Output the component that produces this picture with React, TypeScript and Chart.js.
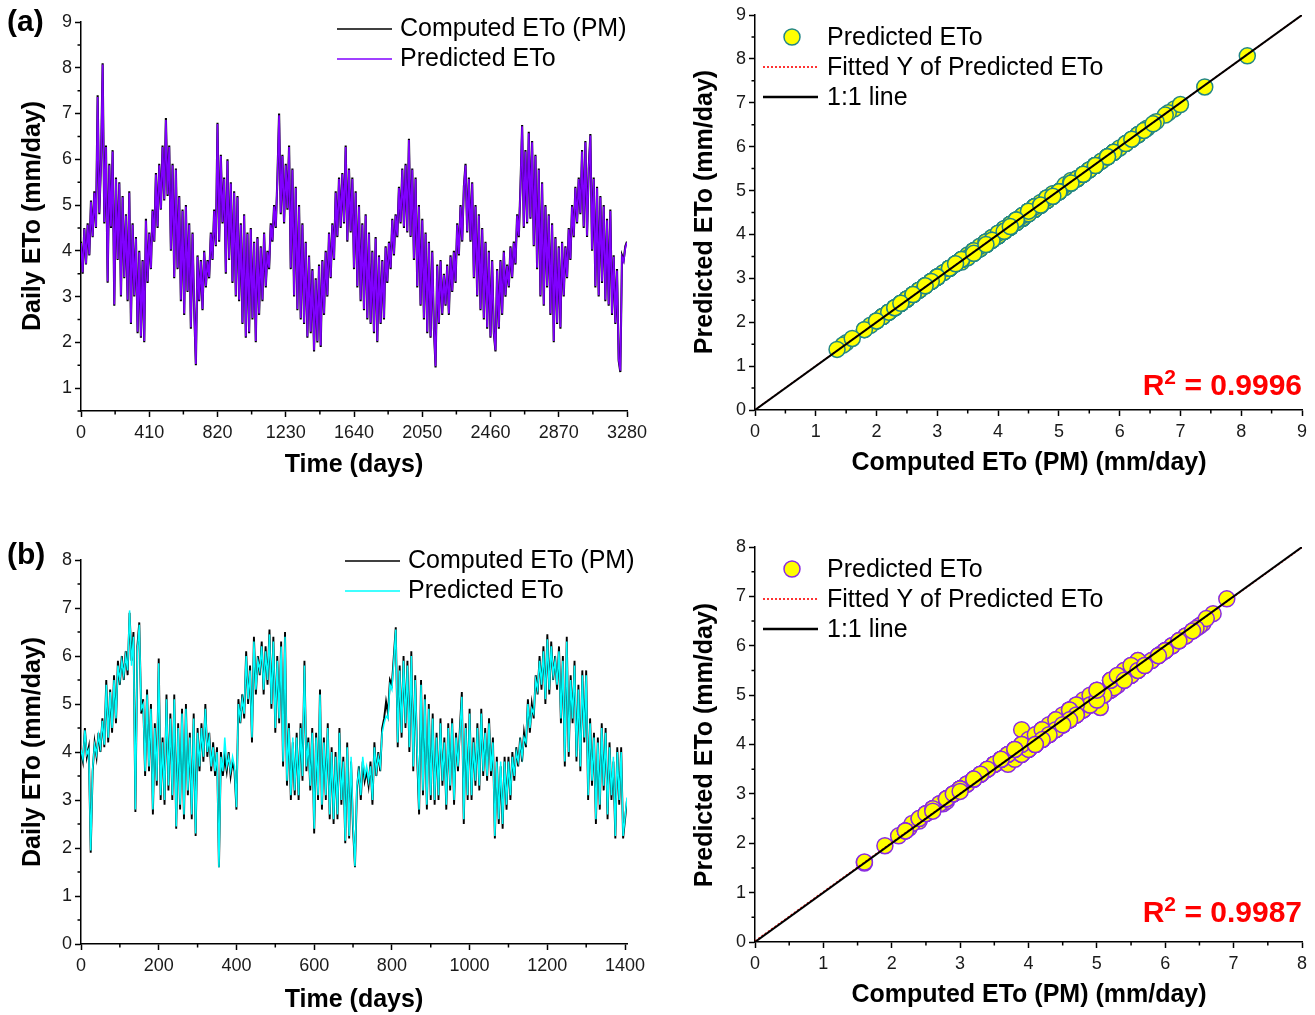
import React, { useEffect, useRef } from "react";
import { Chart, registerables } from "chart.js";

Chart.register(...registerables);

const FONT = '"Liberation Sans", Arial, Helvetica, sans-serif';

// ---------------- Panel (a) : daily ETo, one reading every 10 days ----------------
const aStepDays = 10;
const aComputed = [
  4.2, 3.5, 4.5, 3.7, 4.6, 3.9, 5.1, 4.3, 5.3, 4.5,
  7.4, 4.8, 5.9, 8.1, 4.6, 6.3, 3.3, 5.9, 4.5, 6.2,
  2.8, 5.6, 3.8, 5.5, 3.0, 5.2, 3.4, 4.8, 2.9, 5.3,
  2.4, 4.6, 3.0, 4.3, 2.2, 4.0, 2.1, 3.8, 2.0, 4.7,
  3.3, 4.4, 3.6, 4.9, 4.2, 5.7, 4.5, 5.9, 4.9, 6.3,
  5.1, 6.9, 5.2, 6.3, 4.0, 5.9, 3.4, 5.8, 3.6, 5.2,
  2.9, 4.9, 2.6, 5.0, 3.1, 4.6, 2.3, 4.4, 2.7, 1.5,
  3.9, 2.9, 3.8, 2.7, 4.0, 3.2, 3.8, 3.4, 4.4, 3.8,
  4.9, 4.1, 6.8, 4.2, 6.1, 4.6, 5.6, 3.5, 6.0, 3.8,
  5.5, 3.3, 5.3, 3.0, 5.2, 2.9, 4.6, 2.4, 4.8, 2.1,
  4.4, 2.2, 4.5, 2.5, 4.2, 2.0, 4.3, 2.6, 4.1, 2.9,
  4.4, 3.2, 4.0, 3.6, 4.6, 4.2, 5.0, 4.5, 5.6, 7.0,
  4.8, 6.1, 4.6, 5.9, 4.9, 6.3, 3.6, 5.8, 3.0, 5.4,
  2.7, 5.0, 2.5, 4.6, 2.4, 4.2, 2.1, 3.9, 2.2, 3.6,
  1.8, 3.4, 2.0, 3.7, 1.9, 3.8, 2.6, 4.0, 3.0, 4.4,
  3.4, 4.6, 3.8, 5.3, 4.3, 5.6, 4.5, 5.7, 4.6, 6.3,
  4.2, 5.8, 4.4, 5.6, 3.6, 5.3, 3.2, 5.0, 2.9, 4.6,
  2.7, 4.8, 2.5, 4.4, 2.4, 4.0, 2.2, 4.3, 2.0, 3.9,
  2.4, 3.8, 2.5, 4.1, 3.3, 4.2, 3.6, 4.7, 3.9, 4.8,
  4.3, 5.4, 4.6, 5.8, 4.5, 5.9, 4.4, 6.45, 4.3, 5.8,
  3.8, 5.6, 3.2, 5.0, 2.8, 4.7, 2.5, 4.4, 2.2, 4.2,
  2.1, 4.0, 2.3, 1.45, 3.7, 2.4, 3.8, 2.6, 3.5, 2.8,
  3.7, 2.6, 3.9, 3.1, 4.0, 3.3, 4.6, 3.9, 5.0, 4.2,
  5.4, 5.9, 4.4, 5.6, 4.2, 5.5, 3.4, 5.0, 3.0, 4.8,
  2.7, 4.5, 2.5, 4.2, 2.3, 4.0, 2.1, 3.8, 2.2, 1.8,
  3.6, 2.3, 3.8, 2.6, 4.0, 3.0, 3.7, 3.2, 4.1, 3.4,
  4.2, 3.7, 4.8, 4.3, 5.4, 6.75, 4.5, 6.2, 4.6, 6.6,
  4.7, 6.4, 4.1, 6.1, 3.6, 5.8, 3.0, 5.5, 2.8, 5.0,
  3.2, 4.8, 2.6, 4.6, 2.0, 4.3, 2.4, 4.1, 2.3, 4.2,
  3.0, 4.1, 3.4, 4.5, 3.8, 5.0, 4.3, 5.4, 4.6, 5.6,
  4.8, 6.2, 4.5, 6.4, 4.3, 5.8, 6.55, 4.0, 5.6, 3.2,
  5.4, 3.0, 5.2, 3.3, 5.0, 2.9, 4.7, 2.8, 4.9, 2.6,
  3.9, 2.4, 3.6, 1.6, 1.35, 3.9, 3.8, 4.1, 4.2,
];
const aPredicted = [
  4.17, 3.53, 4.48, 3.72, 4.57, 3.92, 5.07, 4.32, 5.27, 4.52,
  7.36, 4.83, 5.87, 8.07, 4.63, 6.27, 3.33, 5.87, 4.53, 6.17,
  2.83, 5.57, 3.82, 5.47, 3.03, 5.17, 3.43, 4.77, 2.93, 5.27,
  2.43, 4.57, 3.03, 4.27, 2.23, 3.97, 2.13, 3.77, 2.03, 4.66,
  3.33, 4.37, 3.62, 4.87, 4.22, 5.67, 4.53, 5.87, 4.92, 6.27,
  5.13, 6.86, 5.23, 6.27, 4.03, 5.87, 3.43, 5.77, 3.63, 5.17,
  2.93, 4.87, 2.63, 4.97, 3.13, 4.57, 2.33, 4.37, 2.73, 1.53,
  3.87, 2.93, 3.77, 2.73, 3.97, 3.23, 3.77, 3.43, 4.37, 3.82,
  4.87, 4.13, 6.77, 4.23, 6.07, 4.63, 5.57, 3.53, 5.97, 3.83,
  5.47, 3.33, 5.27, 3.03, 5.17, 2.93, 4.57, 2.43, 4.77, 2.13,
  4.37, 2.23, 4.47, 2.53, 4.17, 2.03, 4.27, 2.63, 4.07, 2.93,
  4.37, 3.23, 3.97, 3.63, 4.57, 4.23, 4.97, 4.53, 5.57, 6.96,
  4.83, 6.07, 4.63, 5.87, 4.93, 6.27, 3.63, 5.77, 3.03, 5.37,
  2.73, 4.97, 2.53, 4.57, 2.43, 4.17, 2.13, 3.87, 2.23, 3.57,
  1.83, 3.37, 2.03, 3.67, 1.93, 3.77, 2.63, 3.97, 3.03, 4.37,
  3.43, 4.57, 3.83, 5.27, 4.33, 5.57, 4.53, 5.67, 4.63, 6.27,
  4.23, 5.77, 4.43, 5.57, 3.63, 5.27, 3.23, 4.97, 2.93, 4.57,
  2.73, 4.77, 2.53, 4.37, 2.43, 3.97, 2.23, 4.27, 2.03, 3.87,
  2.43, 3.77, 2.53, 4.07, 3.33, 4.17, 3.63, 4.67, 3.93, 4.77,
  4.33, 5.37, 4.63, 5.77, 4.53, 5.87, 4.43, 6.42, 4.33, 5.77,
  3.83, 5.57, 3.23, 4.97, 2.83, 4.67, 2.53, 4.37, 2.23, 4.17,
  2.13, 3.97, 2.33, 1.48, 3.67, 2.43, 3.77, 2.63, 3.47, 2.83,
  3.67, 2.63, 3.87, 3.13, 3.97, 3.33, 4.57, 3.93, 4.97, 4.23,
  5.37, 5.87, 4.43, 5.57, 4.23, 5.47, 3.43, 4.97, 3.03, 4.77,
  2.73, 4.47, 2.53, 4.17, 2.33, 3.97, 2.13, 3.77, 2.23, 1.83,
  3.57, 2.33, 3.77, 2.63, 3.97, 3.03, 3.67, 3.23, 4.07, 3.43,
  4.17, 3.73, 4.77, 4.33, 5.37, 6.72, 4.53, 6.17, 4.63, 6.57,
  4.73, 6.37, 4.13, 6.07, 3.63, 5.77, 3.03, 5.47, 2.83, 4.97,
  3.23, 4.77, 2.63, 4.57, 2.03, 4.27, 2.43, 4.07, 2.33, 4.17,
  3.03, 4.07, 3.43, 4.47, 3.83, 4.97, 4.33, 5.37, 4.63, 5.57,
  4.83, 6.17, 4.53, 6.37, 4.33, 5.77, 6.52, 4.03, 5.57, 3.23,
  5.37, 3.03, 5.17, 3.33, 4.97, 2.93, 4.67, 2.83, 4.87, 2.63,
  3.87, 2.43, 3.57, 1.63, 1.38, 3.87, 3.77, 4.07, 4.18,
];

// ---------------- Panel (b) : daily ETo, one reading every 5 days ----------------
const bStepDays = 5;
const bComputed = [
  4.0, 3.8, 4.5, 3.9, 4.1, 1.9, 3.6, 4.2, 3.9, 4.4, 4.0, 4.7, 4.1, 5.5, 4.2, 5.3, 4.4, 5.6, 4.6, 5.9,
  5.4, 6.0, 5.5, 6.1, 5.6, 6.9, 5.9, 6.5, 2.75, 6.2, 6.7, 4.8, 5.1, 3.5, 5.3, 3.6, 5.0, 2.7, 4.6, 3.3,
  5.95, 3.0, 4.3, 2.9, 5.2, 3.2, 4.8, 3.0, 5.2, 2.4, 4.6, 2.8, 4.9, 2.6, 5.0, 3.1, 4.4, 2.6, 4.8, 2.25,
  4.5, 3.6, 4.6, 3.8, 5.0, 3.9, 4.4, 3.6, 4.2, 3.5, 4.1, 1.6, 4.0, 3.5, 3.9, 3.6, 4.0, 3.5, 3.8, 3.6,
  2.8, 5.1, 4.6, 5.2, 4.7, 6.1, 5.0, 5.8, 4.2, 6.4, 5.2, 6.0, 5.6, 6.3, 5.2, 6.2, 5.4, 6.55, 4.9, 6.4,
  4.4, 6.0, 4.6, 6.3, 3.7, 6.5, 3.3, 4.6, 3.0, 4.2, 3.1, 4.4, 3.0, 4.6, 3.4, 5.9, 3.6, 4.3, 3.2, 4.5,
  2.3, 4.4, 3.0, 5.3, 2.8, 4.3, 3.0, 4.6, 2.6, 4.1, 2.5, 4.0, 2.6, 4.5, 2.9, 3.9, 2.1, 4.2, 2.2, 3.8,
  2.4, 1.6, 3.2, 3.7, 3.0, 3.8, 3.4, 3.6, 3.3, 3.8, 2.9, 4.2, 3.5, 4.0, 3.6, 4.5, 4.7, 5.05, 4.8, 5.5,
  5.4, 6.0, 6.6, 4.1, 5.8, 4.3, 6.0, 4.5, 5.9, 4.0, 6.1, 3.6, 5.6, 3.9, 2.7, 5.5, 3.1, 5.2, 2.8, 5.0,
  3.0, 4.8, 2.9, 4.4, 3.0, 4.7, 3.3, 4.3, 2.8, 4.6, 3.2, 4.7, 2.9, 4.4, 3.6, 4.5, 5.25, 2.5, 4.6, 3.0,
  4.9, 3.0, 4.3, 3.3, 4.6, 3.2, 4.9, 3.5, 4.5, 3.4, 4.7, 3.5, 4.3, 2.2, 3.9, 2.5, 3.7, 2.4, 3.9, 2.8,
  3.9, 3.0, 4.0, 3.4, 4.1, 3.7, 4.3, 3.8, 4.4, 4.1, 5.1, 4.4, 5.0, 4.7, 5.6, 5.2, 6.0, 5.3, 6.2, 5.0,
  6.45, 5.2, 6.3, 5.5, 6.0, 5.3, 6.2, 4.6, 6.0, 3.7, 6.4, 3.9, 5.6, 4.6, 5.9, 3.8, 5.4, 3.6, 5.7, 4.2,
  5.7, 3.0, 4.7, 3.3, 4.4, 2.5, 4.3, 2.8, 4.6, 3.2, 4.5, 2.6, 4.2, 3.0, 3.8, 2.2, 4.1, 2.9, 4.1, 2.2,
  2.6, 3.0,
];
const bPredicted = [
  4.05, 3.85, 4.45, 3.95, 4.05, 1.95, 3.65, 4.15, 3.95, 4.35, 4.1, 4.65, 4.15, 5.4, 4.3, 5.25, 4.5, 5.5, 4.7, 5.8,
  5.5, 5.9, 5.6, 6.0, 5.7, 6.95, 5.8, 6.4, 2.8, 6.1, 6.65, 4.9, 5.0, 3.6, 5.2, 3.7, 4.9, 2.8, 4.5, 3.4,
  5.85, 3.1, 4.2, 3.0, 5.1, 3.3, 4.7, 3.1, 5.1, 2.45, 4.5, 2.9, 4.8, 2.7, 4.9, 3.2, 4.3, 2.7, 4.7, 2.3,
  4.4, 3.7, 4.5, 3.9, 4.9, 4.0, 4.3, 3.7, 4.1, 3.6, 4.0, 1.6, 3.9, 3.6, 4.3, 3.7, 3.9, 3.6, 3.9, 3.7,
  2.85, 5.0, 4.7, 5.1, 4.8, 6.0, 5.1, 5.7, 4.3, 6.3, 5.3, 5.9, 5.7, 6.2, 5.3, 6.1, 5.5, 6.45, 5.0, 6.3,
  4.5, 5.9, 4.7, 6.2, 3.8, 6.4, 3.4, 4.5, 3.1, 4.3, 3.2, 4.3, 3.1, 4.5, 3.5, 5.8, 3.7, 4.2, 3.3, 4.4,
  2.4, 4.3, 3.1, 5.2, 2.9, 4.2, 3.1, 4.5, 2.7, 4.0, 2.6, 3.9, 2.7, 4.4, 3.0, 3.8, 2.15, 4.1, 2.25, 3.9,
  2.5, 1.62, 3.3, 3.6, 3.1, 3.9, 3.5, 3.7, 3.4, 3.7, 3.0, 4.1, 3.6, 3.9, 3.7, 4.4, 4.6, 4.75, 4.7, 5.4,
  5.3, 5.9, 6.55, 4.2, 5.7, 4.4, 5.9, 4.6, 5.8, 4.1, 6.0, 3.7, 5.5, 4.0, 2.8, 5.4, 3.2, 5.1, 2.9, 4.9,
  3.1, 4.7, 3.0, 4.3, 3.1, 4.6, 3.4, 4.2, 2.9, 4.5, 3.3, 4.6, 3.0, 4.3, 3.7, 4.4, 5.15, 2.6, 4.5, 3.1,
  4.8, 3.1, 4.2, 3.4, 4.5, 3.3, 4.8, 3.6, 4.4, 3.5, 4.6, 3.6, 4.2, 2.25, 3.8, 2.6, 3.8, 2.5, 3.8, 2.9,
  3.8, 3.1, 3.9, 3.5, 4.0, 3.8, 4.2, 3.9, 4.3, 4.2, 5.0, 4.5, 4.9, 4.8, 5.5, 5.3, 5.9, 5.4, 6.1, 5.1,
  6.35, 5.3, 6.2, 5.6, 5.9, 5.4, 6.1, 4.7, 5.9, 3.8, 6.3, 4.0, 5.5, 4.7, 5.8, 3.9, 5.3, 3.7, 5.6, 4.3,
  5.6, 3.1, 4.6, 3.4, 4.3, 2.6, 4.2, 2.9, 4.5, 3.3, 4.4, 2.7, 4.1, 3.1, 3.9, 2.25, 4.0, 3.0, 4.0, 2.25,
  2.65, 3.05,
];

// ---------------- ticks ----------------
const aTimeTicks = [0, 410, 820, 1230, 1640, 2050, 2460, 2870, 3280];
const aTimeMinor = [205, 615, 1025, 1435, 1845, 2255, 2665, 3075];
const aEtoTicks = [1, 2, 3, 4, 5, 6, 7, 8, 9];
const aEtoMinor = [0.5, 1.5, 2.5, 3.5, 4.5, 5.5, 6.5, 7.5, 8.5];
const aScatterTicks = [0, 1, 2, 3, 4, 5, 6, 7, 8, 9];
const aScatterMinor = [0.5, 1.5, 2.5, 3.5, 4.5, 5.5, 6.5, 7.5, 8.5];
const bTimeTicks = [0, 200, 400, 600, 800, 1000, 1200, 1400];
const bTimeMinor = [100, 300, 500, 700, 900, 1100, 1300];
const bEtoTicks = [0, 1, 2, 3, 4, 5, 6, 7, 8];
const bEtoMinor = [0.5, 1.5, 2.5, 3.5, 4.5, 5.5, 6.5, 7.5];
const bScatterTicks = [0, 1, 2, 3, 4, 5, 6, 7, 8];
const bScatterMinor = [0.5, 1.5, 2.5, 3.5, 4.5, 5.5, 6.5, 7.5];

// fitted regression lines and 1:1 lines (end points)
const aFitX = [0, 9];
const aFitY = [0.004, 9.0];
const bFitX = [0, 8];
const bFitY = [0.02, 7.99];
const aOneToOne = [0, 9];
const bOneToOne = [0, 8];
const aR2 = "0.9996";
const bR2 = "0.9987";

// ---------------- styles ----------------
const PURPLE = "#8000ff";
const CYAN = "#00ffff";
const YELLOW = "#ffff00";
const TEAL = "#238686";
const VIOLET = "#8a2be2";

// ---------------- helpers ----------------
function linAxis(pos: "bottom" | "left", min: number, max: number, majors: number[], size: number) {
  return {
    type: "linear",
    position: pos,
    min,
    max,
    afterBuildTicks: (s: any) => {
      s.ticks = majors.map((v) => ({ value: v }));
    },
    afterFit: (s: any) => {
      if (pos === "bottom") s.height = size;
      else s.width = size;
    },
    grid: {
      display: true,
      drawOnChartArea: false,
      drawTicks: true,
      tickLength: 6,
      tickWidth: 1.5,
      tickColor: "#000",
    },
    border: { display: true, color: "#000", width: 1.5 },
    ticks: {
      color: "#1a1a1a",
      font: { family: FONT, size: 18 },
      padding: pos === "bottom" ? 5 : 3,
      maxRotation: 0,
      autoSkip: false,
      includeBounds: false,
      callback: (v: any) => String(v),
    },
  };
}

function minorPlugin(xMinor: number[], yMinor: number[]) {
  return {
    id: "minorTicks",
    afterDraw(chart: any) {
      const { ctx, chartArea, scales } = chart;
      ctx.save();
      ctx.strokeStyle = "#000";
      ctx.lineWidth = 1.5;
      ctx.beginPath();
      for (const v of xMinor) {
        const px = scales.x.getPixelForValue(v);
        ctx.moveTo(px, chartArea.bottom);
        ctx.lineTo(px, chartArea.bottom + 3.5);
      }
      for (const v of yMinor) {
        const py = scales.y.getPixelForValue(v);
        ctx.moveTo(chartArea.left, py);
        ctx.lineTo(chartArea.left - 3.5, py);
      }
      ctx.stroke();
      ctx.restore();
    },
  };
}

function txt(
  ctx: CanvasRenderingContext2D,
  s: string,
  x: number,
  y: number,
  size: number,
  opts: { bold?: boolean; color?: string; align?: CanvasTextAlign; rot?: number; baseline?: CanvasTextBaseline } = {}
) {
  ctx.save();
  ctx.translate(x, y);
  if (opts.rot) ctx.rotate(opts.rot);
  ctx.font = `${opts.bold ? "bold " : ""}${size}px ${FONT}`;
  ctx.fillStyle = opts.color || "#000";
  ctx.textAlign = opts.align || "left";
  ctx.textBaseline = opts.baseline || "middle";
  ctx.fillText(s, 0, 0);
  ctx.restore();
}

function seg(ctx: CanvasRenderingContext2D, x1: number, x2: number, y: number, color: string, w: number, dash: number[] = []) {
  ctx.save();
  ctx.strokeStyle = color;
  ctx.lineWidth = w;
  ctx.setLineDash(dash);
  ctx.beginPath();
  ctx.moveTo(x1, y);
  ctx.lineTo(x2, y);
  ctx.stroke();
  ctx.restore();
}

function drawR2(ctx: CanvasRenderingContext2D, value: string, right: number, baseline: number) {
  ctx.save();
  ctx.fillStyle = "#ff0000";
  ctx.textBaseline = "alphabetic";
  ctx.textAlign = "left";
  const big = `bold 30px ${FONT}`;
  const small = `bold 21px ${FONT}`;
  ctx.font = big;
  const wR = ctx.measureText("R").width;
  const rest = " = " + value;
  const wRest = ctx.measureText(rest).width;
  ctx.font = small;
  const w2 = ctx.measureText("2").width;
  let x = right - (wR + w2 + wRest);
  ctx.font = big;
  ctx.fillText("R", x, baseline);
  x += wR;
  ctx.font = small;
  ctx.fillText("2", x, baseline - 11);
  x += w2;
  ctx.font = big;
  ctx.fillText(rest, x, baseline);
  ctx.restore();
}

function series(step: number, vals: number[]) {
  return vals.map((v, i) => ({ x: i * step, y: v }));
}

function pairs(xs: number[], ys: number[]) {
  return xs.map((x, i) => ({ x, y: ys[i] }));
}

const baseOptions = {
  responsive: false,
  animation: false,
  events: [],
  plugins: { legend: { display: false }, tooltip: { enabled: false } },
};

const TITLE = 25;
const LEG = 25;

// ---------------- time-series config ----------------
function timeConfig(p: {
  step: number;
  computed: number[];
  predicted: number[];
  predColor: string;
  predWidth: number;
  compWidth: number;
  xMax: number;
  yMin: number;
  yMax: number;
  xTicks: number[];
  xMinor: number[];
  yTicks: number[];
  yMinor: number[];
  padTop: number;
  xAxisH: number;
  label: string;
  labelY: number;
  legY1: number;
  legY2: number;
  legX1: number;
  yTitleY: number;
  xTitleY: number;
}) {
  const deco = {
    id: "deco",
    afterDraw(chart: any) {
      const ctx = chart.ctx as CanvasRenderingContext2D;
      txt(ctx, p.label, 7, p.labelY, 30, { bold: true });
      seg(ctx, p.legX1, p.legX1 + 55, p.legY1, "#000", 1.5);
      txt(ctx, "Computed ETo (PM)", p.legX1 + 63, p.legY1, LEG);
      seg(ctx, p.legX1, p.legX1 + 55, p.legY2, p.predColor, 1.5);
      txt(ctx, "Predicted ETo", p.legX1 + 63, p.legY2, LEG);
      txt(ctx, "Daily ETo (mm/day)", 33, p.yTitleY, TITLE, { bold: true, align: "center", rot: -Math.PI / 2 });
      txt(ctx, "Time (days)", 354, p.xTitleY, TITLE, { bold: true, align: "center" });
    },
  };
  return {
    type: "line",
    data: {
      datasets: [
        {
          label: "Predicted ETo",
          data: series(p.step, p.predicted),
          borderColor: p.predColor,
          borderWidth: p.predWidth,
          pointRadius: 0,
          tension: 0,
          order: 0,
        },
        {
          label: "Computed ETo (PM)",
          data: series(p.step, p.computed),
          borderColor: "#000",
          borderWidth: p.compWidth,
          pointRadius: 0,
          tension: 0,
          order: 1,
        },
      ],
    },
    options: {
      ...baseOptions,
      layout: { autoPadding: false, padding: { top: p.padTop, right: 33, left: 0, bottom: 0 } },
      scales: {
        x: linAxis("bottom", 0, p.xMax, p.xTicks, p.xAxisH),
        y: linAxis("left", p.yMin, p.yMax, p.yTicks, 81),
      },
    },
    plugins: [minorPlugin(p.xMinor, p.yMinor), deco],
  };
}

// ---------------- scatter config ----------------
function scatterConfig(p: {
  computed: number[];
  predicted: number[];
  border: string;
  max: number;
  ticks: number[];
  minor: number[];
  fitX: number[];
  fitY: number[];
  oneToOne: number[];
  padTop: number;
  xAxisH: number;
  legY: number;
  r2: string;
  r2Base: number;
  yTitleY: number;
  xTitleY: number;
}) {
  const deco = {
    id: "deco",
    afterDraw(chart: any) {
      const ctx = chart.ctx as CanvasRenderingContext2D;
      ctx.save();
      ctx.beginPath();
      ctx.arc(132, p.legY, 8, 0, Math.PI * 2);
      ctx.fillStyle = YELLOW;
      ctx.fill();
      ctx.lineWidth = 1.5;
      ctx.strokeStyle = p.border;
      ctx.stroke();
      ctx.restore();
      txt(ctx, "Predicted ETo", 167, p.legY + 1, LEG);
      seg(ctx, 103, 158, p.legY + 30, "#ff0000", 1.6, [2, 2]);
      txt(ctx, "Fitted Y of Predicted ETo", 167, p.legY + 31, LEG);
      seg(ctx, 103, 158, p.legY + 60, "#000", 2.5);
      txt(ctx, "1:1 line", 167, p.legY + 61, LEG);
      drawR2(ctx, p.r2, 642, p.r2Base);
      txt(ctx, "Predicted ETo (mm/day)", 45, p.yTitleY, TITLE, { bold: true, align: "center", rot: -Math.PI / 2 });
      txt(ctx, "Computed ETo (PM) (mm/day)", 369, p.xTitleY, TITLE, { bold: true, align: "center" });
    },
  };
  return {
    type: "scatter",
    data: {
      datasets: [
        {
          type: "line",
          label: "1:1 line",
          data: pairs(p.oneToOne, p.oneToOne),
          borderColor: "#000",
          borderWidth: 2,
          pointRadius: 0,
          order: 0,
        },
        {
          type: "line",
          label: "Fitted Y of Predicted ETo",
          data: pairs(p.fitX, p.fitY),
          borderColor: "#ff0000",
          borderWidth: 1.5,
          borderDash: [2, 2],
          pointRadius: 0,
          order: 1,
        },
        {
          type: "scatter",
          label: "Predicted ETo",
          data: pairs(p.computed, p.predicted),
          backgroundColor: YELLOW,
          borderColor: p.border,
          borderWidth: 1.5,
          pointRadius: 8,
          order: 2,
        },
      ],
    },
    options: {
      ...baseOptions,
      layout: { autoPadding: false, padding: { top: p.padTop, right: 13, left: 0, bottom: 0 } },
      scales: {
        x: linAxis("bottom", 0, p.max, p.ticks, p.xAxisH),
        y: linAxis("left", 0, p.max, p.ticks, 95),
      },
    },
    plugins: [minorPlugin(p.minor, p.minor), deco],
  };
}

const buildALeft = () =>
  timeConfig({
    step: aStepDays,
    computed: aComputed,
    predicted: aPredicted,
    predColor: PURPLE,
    predWidth: 1.7,
    compWidth: 2.1,
    xMax: 3280,
    yMin: 0.5,
    yMax: 9,
    xTicks: aTimeTicks,
    xMinor: aTimeMinor,
    yTicks: aEtoTicks,
    yMinor: aEtoMinor,
    padTop: 22,
    xAxisH: 89,
    label: "(a)",
    labelY: 23,
    legY1: 29,
    legY2: 59,
    legX1: 337,
    yTitleY: 216,
    xTitleY: 465,
  });

const buildARight = () =>
  scatterConfig({
    computed: aComputed,
    predicted: aPredicted,
    border: TEAL,
    max: 9,
    ticks: aScatterTicks,
    minor: aScatterMinor,
    fitX: aFitX,
    fitY: aFitY,
    oneToOne: aOneToOne,
    padTop: 15,
    xAxisH: 90,
    legY: 37,
    r2: aR2,
    r2Base: 395,
    yTitleY: 212,
    xTitleY: 463,
  });

const buildBLeft = () =>
  timeConfig({
    step: bStepDays,
    computed: bComputed,
    predicted: bPredicted,
    predColor: CYAN,
    predWidth: 1.5,
    compWidth: 1.9,
    xMax: 1405,
    yMin: 0,
    yMax: 8,
    xTicks: bTimeTicks,
    xMinor: bTimeMinor,
    yTicks: bEtoTicks,
    yMinor: bEtoMinor,
    padTop: 60,
    xAxisH: 71,
    label: "(b)",
    labelY: 56,
    legY1: 61,
    legY2: 91,
    legX1: 345,
    yTitleY: 252,
    xTitleY: 500,
  });

const buildBRight = () =>
  scatterConfig({
    computed: bComputed,
    predicted: bPredicted,
    border: VIOLET,
    max: 8,
    ticks: bScatterTicks,
    minor: bScatterMinor,
    fitX: bFitX,
    fitY: bFitY,
    oneToOne: bOneToOne,
    padTop: 47,
    xAxisH: 73,
    legY: 69,
    r2: bR2,
    r2Base: 422,
    yTitleY: 245,
    xTitleY: 495,
  });

type PanelProps = { left: number; top: number; width: number; height: number; build: () => any };

function Panel({ left, top, width, height, build }: PanelProps) {
  const ref = useRef<HTMLCanvasElement | null>(null);
  useEffect(() => {
    if (!ref.current) return;
    const chart = new Chart(ref.current, build());
    return () => chart.destroy();
  }, [build]);
  return (
    <canvas
      ref={ref}
      width={width}
      height={height}
      style={{ position: "absolute", left, top, width, height, display: "block" }}
    />
  );
}

export default function App() {
  return (
    <div style={{ position: "absolute", left: 0, top: 0, width: 1315, height: 1015, background: "#fff", overflow: "hidden" }}>
      <Panel left={0} top={0} width={660} height={500} build={buildALeft} />
      <Panel left={660} top={0} width={655} height={500} build={buildARight} />
      <Panel left={0} top={500} width={660} height={515} build={buildBLeft} />
      <Panel left={660} top={500} width={655} height={515} build={buildBRight} />
    </div>
  );
}
